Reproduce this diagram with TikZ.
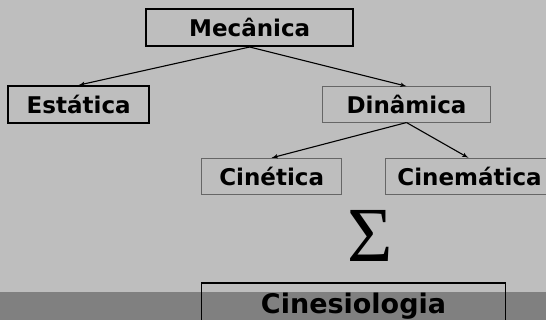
\documentclass[tikz,border=0pt]{standalone}
\usepackage{fontspec}
\setmainfont{DejaVu Sans}
\newfontfamily\sigmafont{Liberation Serif}
\usetikzlibrary{arrows}
\definecolor{slidegray}{HTML}{BEBEBE}
\definecolor{bandgray}{HTML}{808080}
\tikzstyle{block} = [rectangle, draw, line width=1.6pt, font=\fontsize{23}{27}\selectfont\bfseries, text centered, inner sep=0pt]
\tikzstyle{thin block} = [block, draw=black!60, line width=0.8pt]
\tikzstyle{line} = [draw, line width=1.1pt, -latex']

\begin{document}
\begin{tikzpicture}[x=1pt, y=-1pt]
	\clip (0,0) rectangle (546,320);
	\fill [slidegray] (0,0) rectangle (546,320);
	\fill [bandgray] (0,292) rectangle (546,320);
	\node [block, minimum width=207pt, minimum height=37pt] (mec) at (249.7,27.7) {Mecânica};
	\node [block, minimum width=141pt, minimum height=37pt] (est) at (78.7,104.4) {Estática};
	\node [thin block, minimum width=168pt, minimum height=35.5pt] (din) at (406.5,104.4) {Dinâmica};
	\node [thin block, minimum width=140pt, minimum height=36pt] (cinet) at (271.7,176.2) {Cinética};
	\node [thin block, anchor=west, text width=176pt, align=left, inner xsep=12pt, minimum height=36pt] (cinem) at (385,176.2) {Cinemática};
	\node [font=\sigmafont\fontsize{78}{80}\selectfont, inner sep=0pt] (sum) at (370.5,235.5) {Σ};
	\node [block, font=\fontsize{27}{31}\selectfont\bfseries, minimum width=304pt, minimum height=46pt] (cines) at (353.5,306.3) {Cinesiologia};
	\path [line] (mec.south) -> (est.north);
	\path [line] (mec.south) -> (din.north);
	\path [line] (din.south) -> (cinet.north);
	\path [line] (din.south) -> ([xshift=-17pt]cinem.north);
\end{tikzpicture}
\end{document}
